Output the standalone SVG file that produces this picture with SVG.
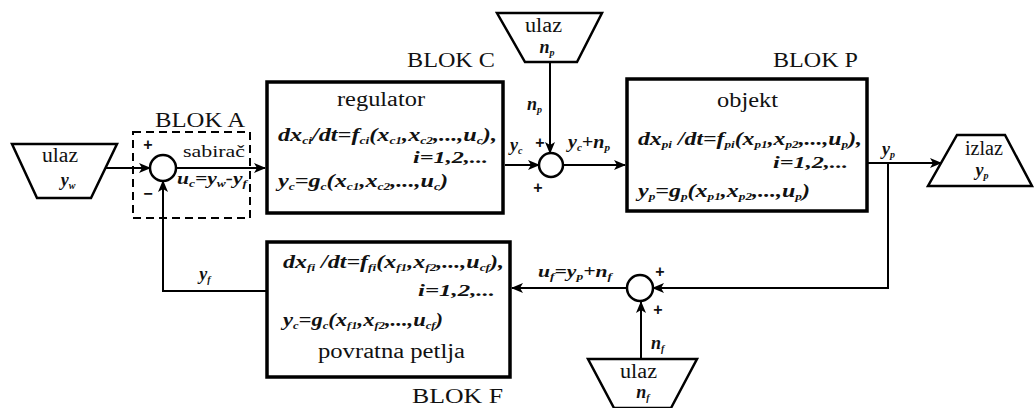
<svg xmlns="http://www.w3.org/2000/svg" width="1035" height="408" viewBox="0 0 1035 408">
<style>
.bg{fill:#fff}
.box{fill:#fff;stroke:#000;stroke-width:3.5}
.trap{fill:#fff;stroke:#000;stroke-width:2.5}
.dash{fill:none;stroke:#000;stroke-width:2;stroke-dasharray:8,5}
.ln{fill:none;stroke:#000;stroke-width:2}
.sum{fill:#fff;stroke:#000;stroke-width:2.5}
.t{font-family:"Liberation Serif","Times New Roman",serif;fill:#111}
.lab{font-size:20px}
.blk{font-size:21px}
.eq{font-family:"Liberation Serif","Times New Roman",serif;font-size:18px;font-weight:bold;font-style:italic;fill:#111}
.idx{font-size:16px}
.sm{font-size:16px}
.s{font-size:10px}
.pm{font-family:"Liberation Sans",Arial,sans-serif;font-size:16px;font-weight:bold;fill:#111}
</style>
<defs>
<marker id="ar" viewBox="0 0 12 10" refX="11" refY="5" markerWidth="12" markerHeight="10" markerUnits="userSpaceOnUse" orient="auto">
<path d="M0,0 L12,5 L0,10 L3,5 z" fill="#000"/>
</marker>
</defs>
<rect class="bg" x="0" y="0" width="1035" height="408"/>

<g id="connectors">
<line class="ln" x1="104" y1="168" x2="150" y2="168" marker-end="url(#ar)"/>
<line class="ln" x1="176" y1="168" x2="265" y2="168" marker-end="url(#ar)"/>
<line class="ln" x1="505" y1="165" x2="539" y2="165" marker-end="url(#ar)"/>
<line class="ln" x1="550" y1="62" x2="550" y2="153" marker-end="url(#ar)"/>
<line class="ln" x1="563" y1="165" x2="625" y2="165" marker-end="url(#ar)"/>
<line class="ln" x1="868" y1="163" x2="941" y2="163" marker-end="url(#ar)"/>
<polyline class="ln" points="888,163 888,288 653,288" marker-end="url(#ar)"/>
<line class="ln" x1="627" y1="288" x2="512" y2="288" marker-end="url(#ar)"/>
<line class="ln" x1="641" y1="360" x2="641" y2="302" marker-end="url(#ar)"/>
<polyline class="ln" points="267,291 163,291 163,181" marker-end="url(#ar)"/>
</g>

<g id="blokA">
<rect class="dash" x="133" y="132" width="117" height="86"/>
<text class="t blk" x="155" y="127" textLength="90" lengthAdjust="spacingAndGlyphs">BLOK A</text>
<text class="t sm" x="183" y="157" textLength="62" lengthAdjust="spacingAndGlyphs">sabirač</text>
<text class="eq sm" x="177" y="184" textLength="70" lengthAdjust="spacingAndGlyphs">u<tspan class="s" baseline-shift="-3">c</tspan>=y<tspan class="s" baseline-shift="-3">w</tspan>-y<tspan class="s" baseline-shift="-3">f</tspan></text>
<text class="pm" x="148" y="150" text-anchor="middle">+</text>
<text class="pm" x="148" y="199" text-anchor="middle">−</text>
</g>

<g id="sumA">
<circle class="sum" cx="163" cy="168" r="13"/>
</g>

<g id="ulazYw">
<polygon class="trap" points="12,144 117,144 91,198 37,198"/>
<text class="t lab" x="42" y="162" textLength="36" lengthAdjust="spacingAndGlyphs">ulaz</text>
<text class="eq" x="68" y="186" text-anchor="middle" font-size="20">y<tspan class="s" baseline-shift="-3">w</tspan></text>
</g>

<g id="blokC">
<rect class="box" x="267" y="82" width="236" height="131"/>
<text class="t blk" x="407" y="67" textLength="88" lengthAdjust="spacingAndGlyphs">BLOK C</text>
<text class="t lab" x="337" y="106" textLength="88" lengthAdjust="spacingAndGlyphs">regulator</text>
<text class="eq" x="278" y="141" textLength="219" lengthAdjust="spacingAndGlyphs">dx<tspan class="s" baseline-shift="-3">ci</tspan>/dt=f<tspan class="s" baseline-shift="-3">ci</tspan>(x<tspan class="s" baseline-shift="-3">c1</tspan>,x<tspan class="s" baseline-shift="-3">c2</tspan>,...,u<tspan class="s" baseline-shift="-3">c</tspan>),</text>
<text class="eq idx" x="413" y="163" textLength="75" lengthAdjust="spacingAndGlyphs">i=1,2,...</text>
<text class="eq" x="278" y="187" textLength="170" lengthAdjust="spacingAndGlyphs">y<tspan class="s" baseline-shift="-3">c</tspan>=g<tspan class="s" baseline-shift="-3">c</tspan>(x<tspan class="s" baseline-shift="-3">c1</tspan>,x<tspan class="s" baseline-shift="-3">c2</tspan>,...,u<tspan class="s" baseline-shift="-3">c</tspan>)</text>
</g>

<g id="sumP">
<circle class="sum" cx="551" cy="165" r="12"/>
<text class="eq" x="510" y="151">y<tspan class="s" baseline-shift="-3">c</tspan></text>
<text class="pm" x="540" y="148" text-anchor="middle">+</text>
<text class="pm" x="538" y="193" text-anchor="middle">+</text>
<text class="eq" x="568" y="148" textLength="42" lengthAdjust="spacingAndGlyphs">y<tspan class="s" baseline-shift="-3">c</tspan>+n<tspan class="s" baseline-shift="-3">p</tspan></text>
<text class="eq" x="527" y="110">n<tspan class="s" baseline-shift="-3">p</tspan></text>
</g>

<g id="ulazNp">
<polygon class="trap" points="497,13 602,13 577,62 525,62"/>
<text class="t lab" x="525" y="32" textLength="37" lengthAdjust="spacingAndGlyphs">ulaz</text>
<text class="eq" x="547" y="53" text-anchor="middle">n<tspan class="s" baseline-shift="-3">p</tspan></text>
</g>

<g id="blokP">
<rect class="box" x="627" y="79" width="240" height="132"/>
<text class="t blk" x="773" y="67" textLength="85" lengthAdjust="spacingAndGlyphs">BLOK P</text>
<text class="t lab" x="717" y="107" textLength="61" lengthAdjust="spacingAndGlyphs">objekt</text>
<text class="eq" x="638" y="145" textLength="224" lengthAdjust="spacingAndGlyphs">dx<tspan class="s" baseline-shift="-3">pi</tspan> /dt=f<tspan class="s" baseline-shift="-3">pi</tspan>(x<tspan class="s" baseline-shift="-3">p1</tspan>,x<tspan class="s" baseline-shift="-3">p2</tspan>,...,u<tspan class="s" baseline-shift="-3">p</tspan>),</text>
<text class="eq idx" x="773" y="168" textLength="75" lengthAdjust="spacingAndGlyphs">i=1,2,...</text>
<text class="eq" x="638" y="197" textLength="172" lengthAdjust="spacingAndGlyphs">y<tspan class="s" baseline-shift="-3">p</tspan>=g<tspan class="s" baseline-shift="-3">p</tspan>(x<tspan class="s" baseline-shift="-3">p1</tspan>,x<tspan class="s" baseline-shift="-3">p2</tspan>,...,u<tspan class="s" baseline-shift="-3">p</tspan>)</text>
<text class="eq" x="882" y="155">y<tspan class="s" baseline-shift="-3">p</tspan></text>
</g>

<g id="izlazYp">
<polygon class="trap" points="957,135 1005,135 1032,186 928,186"/>
<text class="t lab" x="965" y="155" textLength="38" lengthAdjust="spacingAndGlyphs">izlaz</text>
<text class="eq" x="982" y="176" text-anchor="middle">y<tspan class="s" baseline-shift="-3">p</tspan></text>
</g>

<g id="sumF">
<circle class="sum" cx="640" cy="288" r="13"/>
<text class="eq sm" x="538" y="277" textLength="74" lengthAdjust="spacingAndGlyphs">u<tspan class="s" baseline-shift="-3">f</tspan>=y<tspan class="s" baseline-shift="-3">p</tspan>+n<tspan class="s" baseline-shift="-3">f</tspan></text>
<text class="pm" x="660" y="277" text-anchor="middle">+</text>
<text class="pm" x="658" y="315" text-anchor="middle">+</text>
<text class="eq" x="651" y="349">n<tspan class="s" baseline-shift="-3">f</tspan></text>
</g>

<g id="ulazNf">
<polygon class="trap" points="588,359 697,359 671,408 614,408"/>
<text class="t lab" x="620" y="378" textLength="37" lengthAdjust="spacingAndGlyphs">ulaz</text>
<text class="eq" x="643" y="398" text-anchor="middle">n<tspan class="s" baseline-shift="-3">f</tspan></text>
</g>

<g id="blokF">
<rect class="box" x="267" y="242" width="243" height="135"/>
<text class="t blk" x="412" y="403" textLength="91" lengthAdjust="spacingAndGlyphs">BLOK F</text>
<text class="eq" x="283" y="268" textLength="221" lengthAdjust="spacingAndGlyphs">dx<tspan class="s" baseline-shift="-3">fi</tspan> /dt=f<tspan class="s" baseline-shift="-3">fi</tspan>(x<tspan class="s" baseline-shift="-3">f1</tspan>,x<tspan class="s" baseline-shift="-3">f2</tspan>,...,u<tspan class="s" baseline-shift="-3">cf</tspan>),</text>
<text class="eq idx" x="418" y="296" textLength="77" lengthAdjust="spacingAndGlyphs">i=1,2,...</text>
<text class="eq" x="283" y="326" textLength="160" lengthAdjust="spacingAndGlyphs">y<tspan class="s" baseline-shift="-3">c</tspan>=g<tspan class="s" baseline-shift="-3">c</tspan>(x<tspan class="s" baseline-shift="-3">f1</tspan>,x<tspan class="s" baseline-shift="-3">f2</tspan>,...,u<tspan class="s" baseline-shift="-3">cf</tspan>)</text>
<text class="t lab" x="318" y="358" textLength="147" lengthAdjust="spacingAndGlyphs">povratna petlja</text>
<text class="eq" x="205" y="280" text-anchor="middle">y<tspan class="s" baseline-shift="-3">f</tspan></text>
</g>
</svg>
